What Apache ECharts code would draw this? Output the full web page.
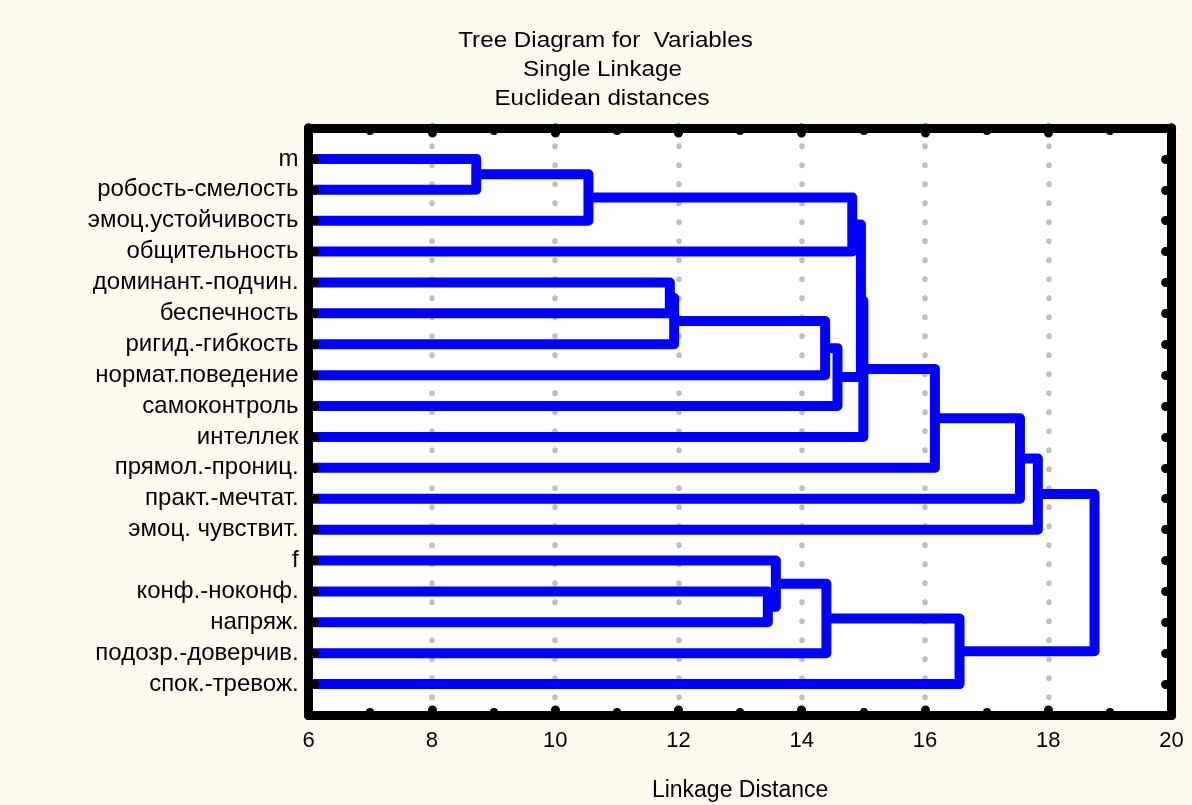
<!DOCTYPE html>
<html>
<head>
<meta charset="utf-8">
<script src="https://cdn.jsdelivr.net/npm/echarts@6/dist/echarts.min.js"></script>
<style>
html,body{margin:0;padding:0;background:#fffaef;}
#chart{width:1192px;height:805px;}
</style>
</head>
<body>
<div id="chart"></div>
<script>
// Variables (leaves), top to bottom
const labels = [
  'm', 'робость-смелость', 'эмоц.устойчивость', 'общительность',
  'доминант.-подчин.', 'беспечность', 'ригид.-гибкость', 'нормат.поведение',
  'самоконтроль', 'интеллек', 'прямол.-прониц.', 'практ.-мечтат.',
  'эмоц. чувствит.', 'f', 'конф.-ноконф.', 'напряж.',
  'подозр.-доверчив.', 'спок.-тревож.'
];
// Merge table (leaves 0..17, new clusters numbered 18, 19, ...)
const mergeA    = [0,    18,    4,     20,    14,    13,    21,    23,    24,    19,    27,    28,    29,    25,    30,    32,    33];
const mergeB    = [1,    2,     5,     6,     15,    22,    7,     16,    8,     3,     26,    9,     10,    17,    11,    12,    31];
const mergeDist = [8.72, 10.54, 11.86, 11.93, 13.45, 13.58, 14.38, 14.40, 14.58, 14.82, 14.96, 15.00, 16.16, 16.56, 17.54, 17.83, 18.75];
const xTicks = [6, 8, 10, 12, 14, 16, 18, 20];

const X_MIN = xTicks[0], X_MAX = xTicks[xTicks.length - 1];
const FAMILY = 'Liberation Sans';

// cluster positions: y (row) and height (distance)
const posY = labels.map((_, i) => i + 1);
const posH = labels.map(() => X_MIN);
const series = [];
mergeA.forEach((a, k) => {
  const b = mergeB[k], h = mergeDist[k];
  const pts = [[posH[a], posY[a]], [h, posY[a]], [h, posY[b]], [posH[b], posY[b]]];
  posY.push((posY[a] + posY[b]) / 2);
  posH.push(h);
  series.push({
    type: 'line', data: pts, symbol: 'none', silent: true, z: 2,
    lineStyle: { color: '#0000ff', width: 10, join: 'round', cap: 'butt' }
  });
});

const frameLine = () => ({ show: true, onZero: false, lineStyle: { color: '#000', width: 9, cap: 'round' } });
const yBase = () => ({
  type: 'value', min: 0, max: labels.length + 1, interval: 1, inverse: true, z: 5,
  axisLine: frameLine(),
  axisTick: { show: true, inside: true, length: 6, lineStyle: { color: '#000', width: 9, cap: 'round' } },
  splitLine: { show: false }
});
const xBase = () => ({
  type: 'value', min: X_MIN, max: X_MAX, interval: 2, z: 5,
  axisLine: frameLine(),
  axisTick: { show: true, inside: true, length: 5, lineStyle: { color: '#000', width: 9, cap: 'round' } },
  minorTick: { show: true, splitNumber: 2, length: 3, lineStyle: { color: '#000', width: 8, cap: 'round' } },
  splitLine: { show: false }
});

function titleLine(text, x, y) {
  return { type: 'text', x: x, y: y, scaleX: 1.1, silent: true, z: 10,
    style: { text: text, fontSize: 22, fontFamily: FAMILY, fill: '#000', align: 'center', verticalAlign: 'middle' } };
}

const chart = echarts.init(document.getElementById('chart'), null, { renderer: 'canvas' });
chart.setOption({
  animation: false,
  backgroundColor: '#fffaef',
  graphic: [
    titleLine('Tree Diagram for  Variables', 605.5, 40.5),
    titleLine('Single Linkage', 602.5, 70.3),
    titleLine('Euclidean distances', 602, 99)
  ],
  grid: {
    left: 308.6, right: 20.4, top: 128, bottom: 90,
    show: true, backgroundColor: '#ffffff', borderWidth: 0,
    containLabel: false, outerBoundsMode: 'none'
  },
  xAxis: [
    Object.assign(xBase(), {
      position: 'bottom',
      axisLabel: { show: true, margin: 15, color: '#000', fontSize: 22, fontFamily: FAMILY,
        formatter: v => String(v) },
      name: 'Linkage Distance', nameLocation: 'middle', nameGap: 64,
      nameTextStyle: { color: '#000', fontSize: 23, fontFamily: FAMILY }
    }),
    Object.assign(xBase(), { position: 'top', axisLabel: { show: false } }),
    {
      type: 'value', min: X_MIN, max: X_MAX, interval: 2, position: 'bottom', z: 0,
      axisLine: { show: false, onZero: false }, axisTick: { show: false }, axisLabel: { show: false },
      splitLine: { show: true, lineStyle: { color: '#c0c0c0', width: 5.5, type: [0.5, 18.5], dashOffset: 1, cap: 'round' } }
    }
  ],
  yAxis: [
    Object.assign(yBase(), {
      position: 'left',
      axisLabel: { show: true, margin: 10, color: '#000', fontSize: 24, fontFamily: FAMILY,
        formatter: v => labels[v - 1] || '' }
    }),
    Object.assign(yBase(), { position: 'right', axisLabel: { show: false } })
  ],
  series: series
});
</script>
</body>
</html>
